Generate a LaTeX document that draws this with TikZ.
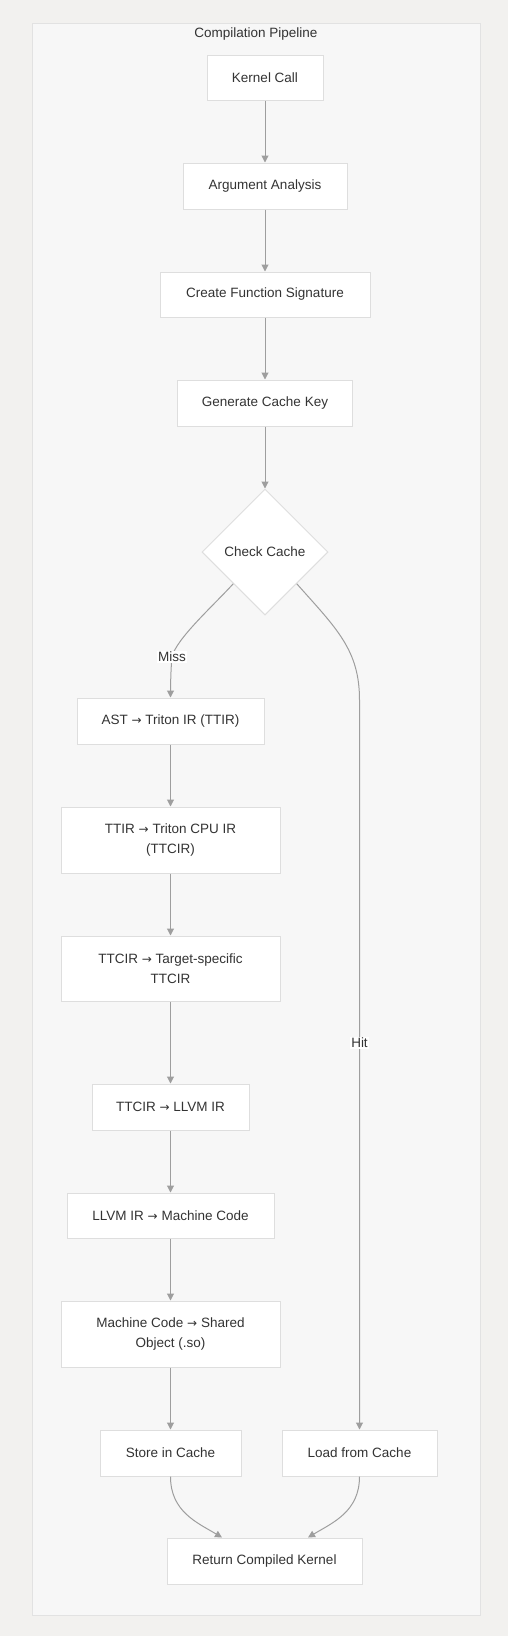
\documentclass[tikz,border=0pt]{standalone}
\usepackage{fontspec}
\setmainfont{Liberation Sans}
\newfontfamily\arrfont{DejaVu Sans}
\usetikzlibrary{shapes.geometric,arrows.meta,calc}
\definecolor{pagebg}{HTML}{F2F1EF}
\definecolor{clusterbg}{HTML}{F7F7F7}
\definecolor{clusterline}{HTML}{E2E2E2}
\definecolor{boxline}{HTML}{DEDEDE}
\definecolor{edgecol}{HTML}{9E9E9E}
\definecolor{txt}{HTML}{333333}
\newcommand{\myarr}{{\arrfont\fontsize{12}{20}\selectfont →}}
\tikzset{
  box/.style={draw=boxline, fill=white, line width=1pt, inner sep=0pt, align=center,
    text=txt, font=\fontsize{13.5}{20}\selectfont},
  decision/.style={diamond, draw=boxline, fill=white, line width=1pt, inner sep=0pt,
    minimum width=126pt, minimum height=126pt, text=txt, font=\fontsize{13.5}{20}\selectfont},
  edge/.style={draw=edgecol, line width=1pt, -{Triangle[length=7pt,width=7pt]}},
  elabel/.style={fill=white, inner sep=1pt, text=txt, font=\fontsize{13.5}{20}\selectfont},
}
\begin{document}
\begin{tikzpicture}[x=1pt,y=-1pt]
\useasboundingbox (0,0) rectangle (508,1636);
\fill[pagebg] (0,0) rectangle (508,1636);
\draw[fill=clusterbg, draw=clusterline, line width=1pt] (32,23) rectangle (480,1615);
\node[text=txt, font=\fontsize{13.5}{20}\selectfont] (title) at (256,34) {Compilation Pipeline};

\node[box, minimum width=116pt, minimum height=45pt] (k) at (265,77.5) {Kernel Call};
\node[box, minimum width=164pt, minimum height=46pt] (a) at (265,186) {Argument Analysis};
\node[box, minimum width=210pt, minimum height=45pt] (s) at (265,294.5) {Create Function Signature};
\node[box, minimum width=175pt, minimum height=46pt] (g) at (265,403) {Generate Cache Key};
\node[decision] (cc) at (265,552) {Check Cache};
\node[box, minimum width=187pt, minimum height=46pt] (ast) at (170.5,721) {AST \myarr{} Triton IR (TTIR)};
\node[box, minimum width=219pt, minimum height=66pt] (ttir) at (170.5,840) {TTIR \myarr{} Triton CPU IR\\(TTCIR)};
\node[box, minimum width=219pt, minimum height=65pt] (tgt) at (170.5,968.5) {TTCIR \myarr{} Target-specific\\TTCIR};
\node[box, minimum width=157pt, minimum height=46pt] (llvm) at (170.5,1107) {TTCIR \myarr{} LLVM IR};
\node[box, minimum width=207pt, minimum height=45pt] (mc) at (170.5,1215.5) {LLVM IR \myarr{} Machine Code};
\node[box, minimum width=219pt, minimum height=66pt] (so) at (170.5,1334) {Machine Code \myarr{} Shared\\Object (.so)};
\node[box, minimum width=141pt, minimum height=46pt] (store) at (170.5,1453) {Store in Cache};
\node[box, minimum width=155pt, minimum height=46pt] (load) at (359.5,1453) {Load from Cache};
\node[box, minimum width=195pt, minimum height=46pt] (ret) at (264.5,1561) {Return Compiled Kernel};

\draw[edge] (k.south) -- (a.north);
\draw[edge] (a.south) -- (s.north);
\draw[edge] (s.south) -- (g.north);
\draw[edge] (g.south) -- (cc.north);

\coordinate (missmid) at (172,657);
\draw[edge] (cc.south west) .. controls +(-20,22) and +(4,-18) .. (missmid) .. controls +(-1,8) and +(0,-12) .. (ast.north);
\node[elabel] (miss) at (missmid) {Miss};

\coordinate (hitbend) at (359.5,700);
\draw[edge] (cc.south east) .. controls +(40,45) and +(0,-50) .. (hitbend) -- (load.north);
\node[elabel] (hit) at (359.5,1043) {Hit};

\draw[edge] (ast.south) -- (ttir.north);
\draw[edge] (ttir.south) -- (tgt.north);
\draw[edge] (tgt.south) -- (llvm.north);
\draw[edge] (llvm.south) -- (mc.north);
\draw[edge] (mc.south) -- (so.north);
\draw[edge] (so.south) -- (store.north);

\coordinate (retl) at ($(ret.north)+(-42.5,0)$);
\coordinate (retr) at ($(ret.north)+(43.5,0)$);
\draw[edge] (store.south) .. controls +(0,35) and +(-25,-15) .. (retl);
\draw[edge] (load.south) .. controls +(0,35) and +(25,-15) .. (retr);
\end{tikzpicture}
\end{document}
